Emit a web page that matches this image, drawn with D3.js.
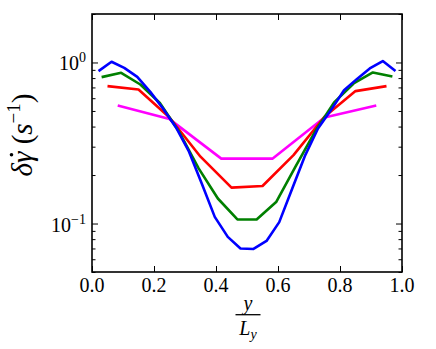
<!DOCTYPE html>
<html lang="en">
<head>
<meta charset="UTF-8">
<title>delta gamma dot profile</title>
<style>
  body { margin: 0; background: #fff; }
  svg { display: block; }
  .tick line { stroke: #000; stroke-width: 1; }
  .domain { display: none; }
  text { font-family: "Liberation Serif", "DejaVu Serif", serif; fill: #000; }
  .curve { fill: none; stroke-width: 2.6; stroke-linejoin: round; }
</style>
</head>
<body>
<div id="chart"></div>
<script src="https://d3js.org/d3.v7.min.js"></script>
<script>
// sample positions y/Ly for each curve
const blueX = [0.021, 0.063, 0.104, 0.146, 0.188, 0.229, 0.271, 0.313, 0.354, 0.396, 0.438, 0.479,
               0.521, 0.563, 0.604, 0.646, 0.688, 0.729, 0.771, 0.813, 0.854, 0.896, 0.938, 0.979];
const blueY = [0.884, 1.01, 0.926, 0.814, 0.657, 0.518, 0.395, 0.279, 0.177, 0.110, 0.0826, 0.070,
               0.0695, 0.078, 0.102, 0.165, 0.266, 0.389, 0.506, 0.673, 0.788, 0.918, 1.02, 0.884];

const greenX = [0.031, 0.094, 0.156, 0.219, 0.281, 0.344, 0.406, 0.469,
                0.531, 0.594, 0.656, 0.719, 0.781, 0.844, 0.906, 0.969];
const greenY = [0.811, 0.863, 0.730, 0.560, 0.371, 0.220, 0.143, 0.106,
                0.106, 0.136, 0.225, 0.371, 0.565, 0.741, 0.867, 0.818];

const redX = [0.05, 0.15, 0.25, 0.35, 0.45, 0.55, 0.65, 0.75, 0.85, 0.95];
const redY = [0.713, 0.680, 0.455, 0.260, 0.167, 0.171, 0.266, 0.460, 0.664, 0.713];

const magentaX = [0.083, 0.25, 0.417, 0.583, 0.75, 0.917];
const magentaY = [0.541, 0.445, 0.253, 0.253, 0.455, 0.541];

const xTicks = [0, 0.2, 0.4, 0.6, 0.8, 1.0];
const xTickLabels = ["0.0", "0.2", "0.4", "0.6", "0.8", "1.0"];
const yMajor = [1, 0.1];
const yMajorExp = ["0", "\u22121"];

const series = [
  { xs: magentaX, ys: magentaY, color: "#ff00ff" },
  { xs: redX, ys: redY, color: "#ff0000" },
  { xs: greenX, ys: greenY, color: "#008000" },
  { xs: blueX, ys: blueY, color: "#0000ff" }
];

const W = 436, H = 349;
const mLeft = 92, mRight = 402, mTop = 14, mBottom = 272;

const svg = d3.select("#chart").append("svg")
  .attr("width", W).attr("height", H);
svg.append("rect").attr("width", W).attr("height", H).attr("fill", "#fff");

const x = d3.scaleLinear().domain([0, 1]).range([mLeft, mRight]);
const y = d3.scaleLog().domain([0.05, 2]).range([mBottom, mTop]);

// clip to plot area
svg.append("clipPath").attr("id", "clip")
  .append("rect").attr("x", mLeft).attr("y", mTop)
  .attr("width", mRight - mLeft).attr("height", mBottom - mTop);

const line = d3.line().x(d => x(d[0])).y(d => y(d[1]));
const plot = svg.append("g").attr("clip-path", "url(#clip)");
series.forEach(s => {
  plot.append("path")
    .attr("class", "curve")
    .attr("stroke", s.color)
    .attr("d", line(s.xs.map((v, i) => [v, s.ys[i]])));
});

// ticks, pointing inward on all four sides
const yTicks = y.ticks();
const isMajor = v => yMajor.some(m => Math.abs(m - v) < 1e-9);
const yMinor = yTicks.filter(v => !isMajor(v));

svg.append("g").attr("transform", `translate(0,${mBottom})`)
  .call(d3.axisBottom(x).tickValues(xTicks).tickSize(-6).tickFormat(""));
svg.append("g").attr("transform", `translate(0,${mTop})`)
  .call(d3.axisTop(x).tickValues(xTicks).tickSize(-6).tickFormat(""));
svg.append("g").attr("transform", `translate(${mLeft},0)`)
  .call(d3.axisLeft(y).tickValues(yMajor).tickSize(-6).tickFormat(""));
svg.append("g").attr("transform", `translate(${mLeft},0)`)
  .call(d3.axisLeft(y).tickValues(yMinor).tickSize(-3.5).tickFormat(""));
svg.append("g").attr("transform", `translate(${mRight},0)`)
  .call(d3.axisRight(y).tickValues(yMajor).tickSize(-6).tickFormat(""));
svg.append("g").attr("transform", `translate(${mRight},0)`)
  .call(d3.axisRight(y).tickValues(yMinor).tickSize(-3.5).tickFormat(""));

// frame
svg.append("rect")
  .attr("x", mLeft).attr("y", mTop)
  .attr("width", mRight - mLeft).attr("height", mBottom - mTop)
  .attr("fill", "none").attr("stroke", "#000").attr("stroke-width", 1.6);

// x tick labels
svg.append("g").selectAll("text")
  .data(xTicks)
  .join("text")
  .attr("x", d => x(d))
  .attr("y", 292)
  .attr("text-anchor", "middle")
  .attr("font-size", 20)
  .text((d, i) => xTickLabels[i]);

// y tick labels: 10^0, 10^-1
yMajor.forEach((v, i) => {
  const t = svg.append("text")
    .attr("x", 86)
    .attr("y", y(v) + 8)
    .attr("text-anchor", "end")
    .attr("font-size", 20);
  t.append("tspan").text("10");
  t.append("tspan").attr("font-size", 14).attr("dy", -8).text(yMajorExp[i]);
});

// y axis label, rotated
const ylg = svg.append("g").attr("transform", "translate(32,135) rotate(-90)");
const yl = ylg.append("text")
  .attr("text-anchor", "middle")
  .attr("font-size", 29)
  .attr("font-style", "italic");
yl.append("tspan").text("\u03b4\u03b3");
yl.append("tspan").attr("font-style", "normal").text("\u00a0(");
yl.append("tspan").text("s");
yl.append("tspan").attr("font-style", "normal").attr("font-size", 19).attr("dy", -12).text("\u22121");
yl.append("tspan").attr("font-style", "normal").attr("dy", 12).text(")");
// dot over gamma
const g0 = yl.node().getStartPositionOfChar(1);
const g1 = yl.node().getEndPositionOfChar(1);
ylg.append("circle")
  .attr("cx", (g0.x + g1.x) / 2 + 2.5)
  .attr("cy", -20.5)
  .attr("r", 1.8)
  .attr("fill", "#000");

// x axis label as a fraction y / L_y
const xc = (mLeft + mRight) / 2 + 1;
svg.append("text")
  .attr("x", xc).attr("y", 310)
  .attr("text-anchor", "middle")
  .attr("font-size", 20)
  .attr("font-style", "italic")
  .text("y");
svg.append("line")
  .attr("x1", xc - 12.5).attr("x2", xc + 12.5)
  .attr("y1", 314.7).attr("y2", 314.7)
  .attr("stroke", "#000").attr("stroke-width", 1.3);
const den = svg.append("text")
  .attr("x", xc).attr("y", 335)
  .attr("text-anchor", "middle")
  .attr("font-size", 20)
  .attr("font-style", "italic");
den.append("tspan").text("L");
den.append("tspan").attr("font-size", 14).attr("dy", 4).text("y");
</script>
</body>
</html>
